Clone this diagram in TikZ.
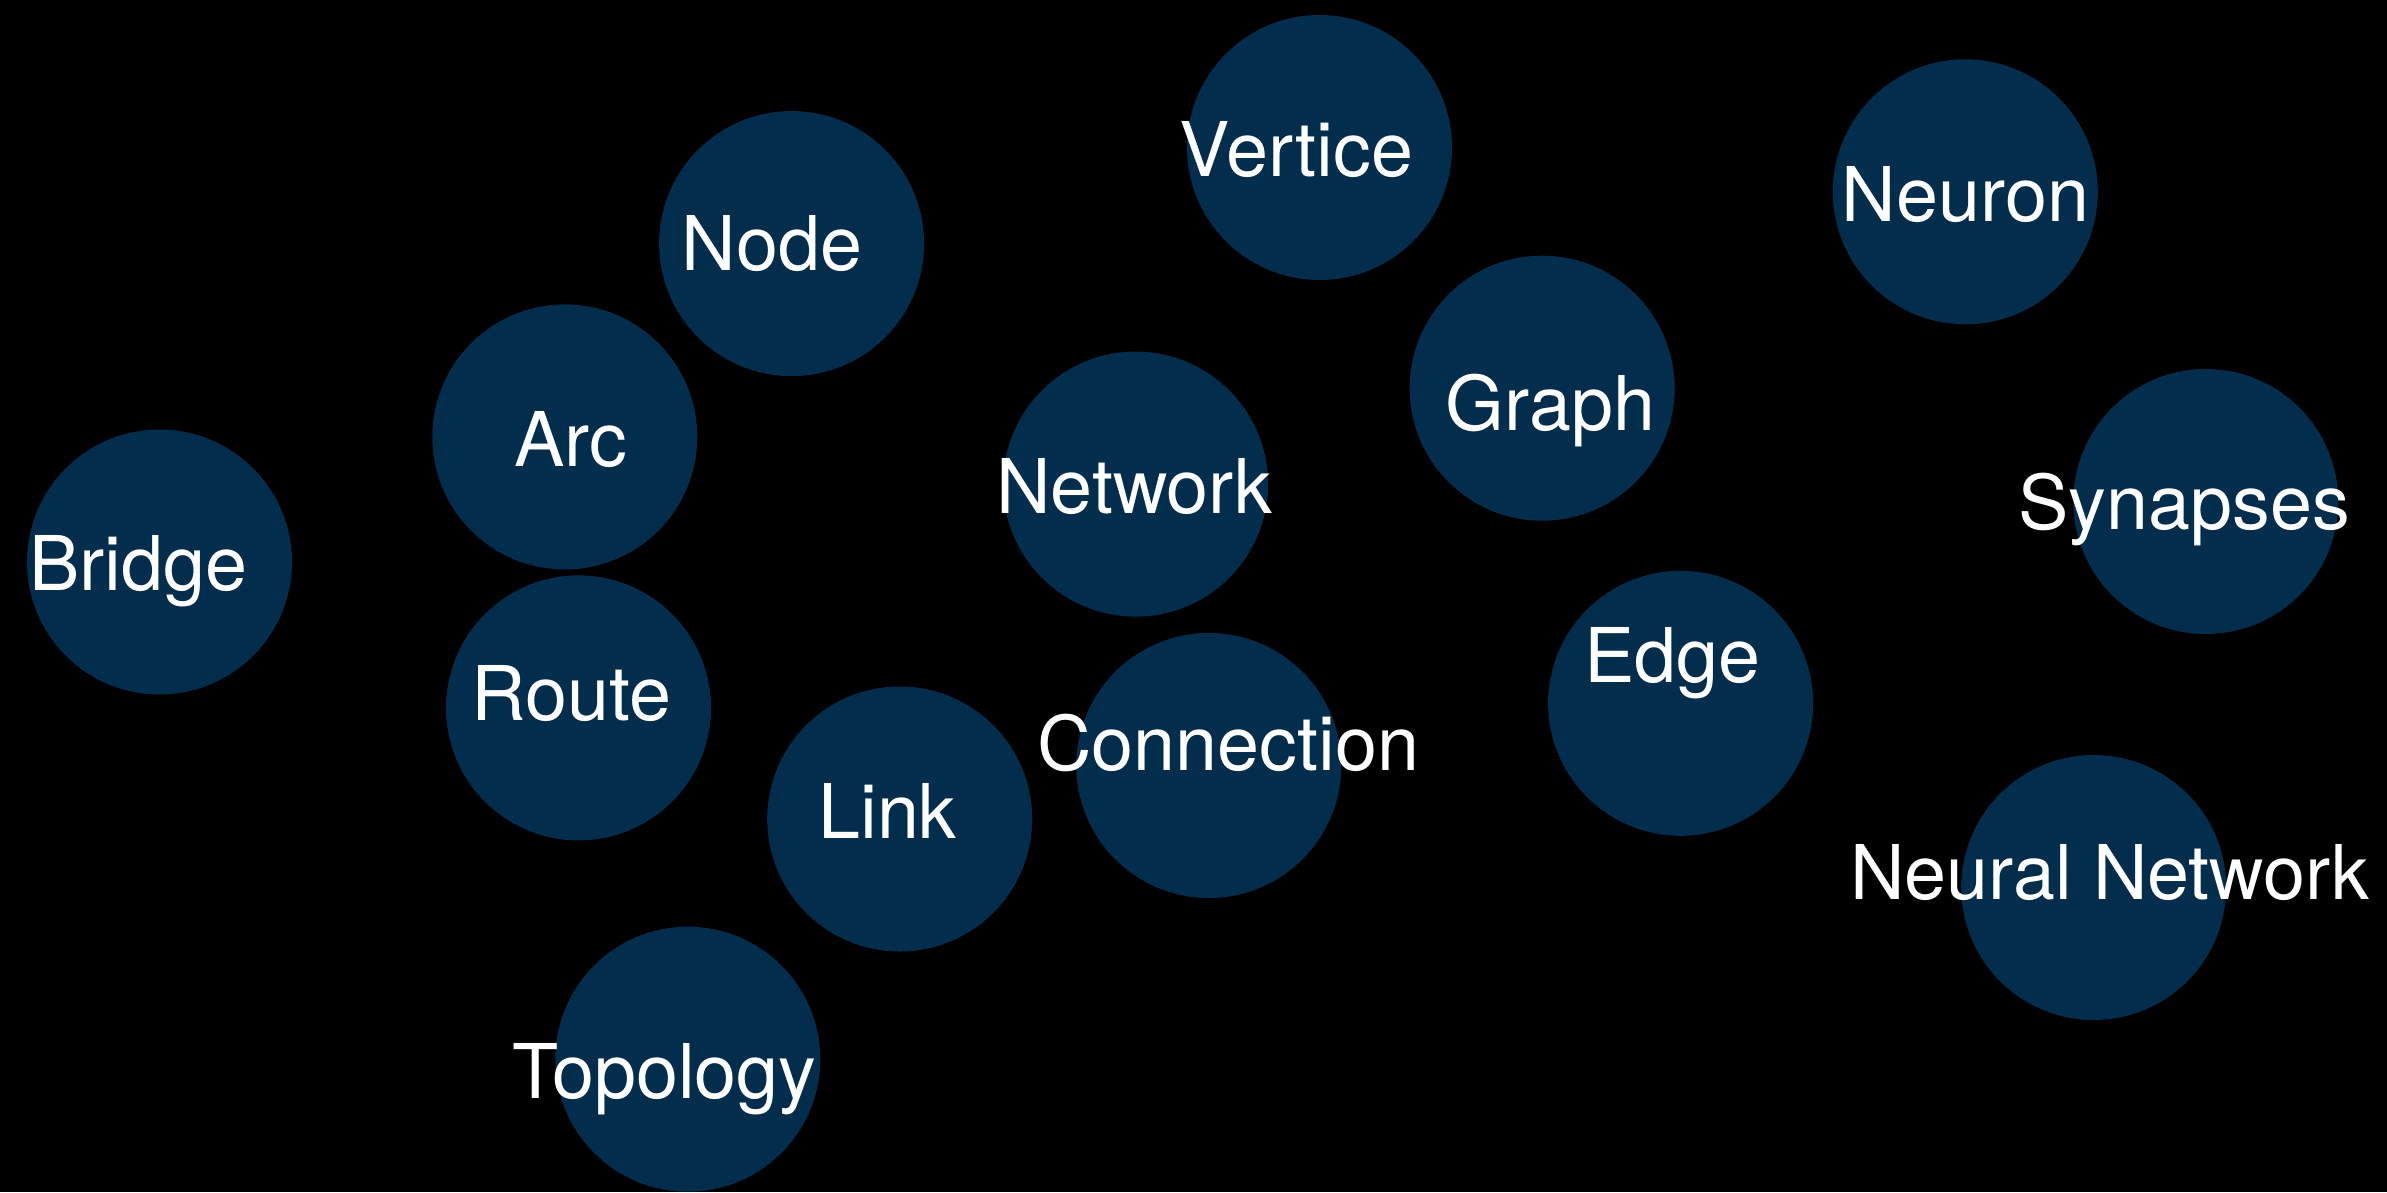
\documentclass[tikz,border=0pt]{standalone}
\usepackage{fontspec}
\setmainfont{TeX Gyre Heros}
\definecolor{bubblefill}{RGB}{2,45,76}
\tikzset{
  bubble/.style={circle, fill=bubblefill, draw=none, minimum size=265pt, inner sep=0pt},
  word/.style={anchor=base, text=white, inner sep=0pt, font=\fontsize{75.5}{90}\selectfont}
}
\begin{document}
\begin{tikzpicture}[x=1pt,y=-1pt]
  % canvas
  \fill[black] (0,0) rectangle (2387,1192);
  \useasboundingbox (0,0) rectangle (2387,1192);

  % circles
  \node[bubble] (vertice)  at (1319.5,147.5) {};
  \node[bubble] (node)     at (791.6,243.6)  {};
  \node[bubble] (neuron)   at (1965.3,191.8) {};
  \node[bubble] (arc)      at (564.8,436.9)  {};
  \node[bubble] (graph)    at (1542.1,388.2) {};
  \node[bubble] (network)  at (1135.6,484.1) {};
  \node[bubble] (synapses) at (2205.8,501.5) {};
  \node[bubble] (bridge)   at (159.5,562)    {};
  \node[bubble] (route)    at (578.5,707.9)  {};
  \node[bubble] (edge)     at (1680.6,703.3) {};
  \node[bubble] (connection) at (1208.8,765.5) {};
  \node[bubble] (link)     at (899.7,819)    {};
  \node[bubble] (neuralnet) at (2093.7,887.5) {};
  \node[bubble] (topology) at (687.8,1059.2) {};

  % labels
  \node[word] (vertice-t)  at (1296.5,176)   {Vertice};
  \node[word] (node-t)     at (771.8,270)    {Node};
  \node[word] (neuron-t)   at (1965.3,221.5) {Neuron};
  \node[word] (arc-t)      at (570.9,466.6)  {Arc};
  \node[word] (graph-t)    at (1550.5,430.8) {Graph};
  \node[word] (network-t)  at (1134.1,513.8) {Network};
  \node[word] (synapses-t) at (2184,529)     {Synapses};
  \node[word] (bridge-t)   at (138.5,590)    {Bridge};
  \node[word] (route-t)    at (571.6,720)    {Route};
  \node[word] (edge-t)     at (1672.2,682)   {Edge};
  \node[word] (connection-t) at (1228.3,770) {Connection};
  \node[word] (link-t)     at (887.5,838.8)  {Link};
  \node[word] (neuralnet-t) at (2109.5,899.3) {Neural Network};
  \node[word] (topology-t) at (664.7,1098.3) {Topology};
\end{tikzpicture}
\end{document}
